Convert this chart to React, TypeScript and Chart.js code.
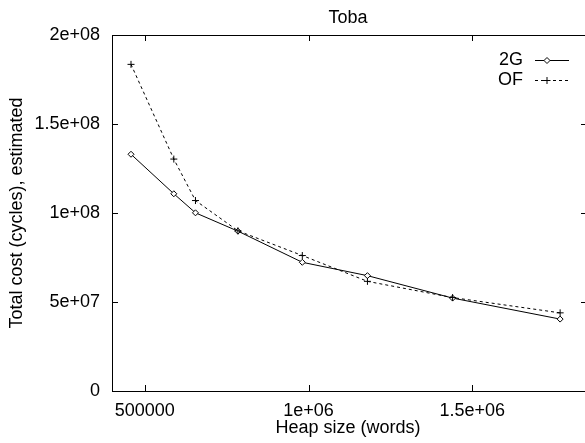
import React, { useEffect, useRef } from "react";
import { Chart, registerables } from "chart.js";

Chart.register(...registerables);

const heapSizes = [458000, 588700, 654800, 784400, 981000, 1179800, 1439700, 1768000];
const cost2G = [133000000, 110800000, 100100000, 89800000, 72300000, 64800000, 52200000, 40400000];
const costOF = [183500000, 130300000, 107000000, 90000000, 76100000, 61600000, 52500000, 43900000];

const xTickValues = [500000, 1000000, 1500000];
const xTickLabels = ["500000", "1e+06", "1.5e+06"];
const yTickValues = [0, 50000000, 100000000, 150000000, 200000000];
const yTickLabels = ["0", "5e+07", "1e+08", "1.5e+08", "2e+08"];

const FONT = "Liberation Sans, Arial, Helvetica, sans-serif";
const FS = 18;

const decorPlugin = {
  id: "decor",
  afterDraw(chart: any) {
    const { ctx, chartArea } = chart;
    const { left, right, top, bottom } = chartArea;
    const xs = chart.scales.x;
    const ys = chart.scales.y;
    ctx.save();
    ctx.strokeStyle = "#000";
    ctx.lineWidth = 1;
    ctx.setLineDash([]);
    // border
    ctx.strokeRect(Math.round(left) + 0.5, Math.round(top) + 0.5, Math.round(right - left), Math.round(bottom - top));
    const tl = 6;
    ctx.beginPath();
    xTickValues.forEach((v) => {
      const px = Math.round(xs.getPixelForValue(v)) + 0.5;
      ctx.moveTo(px, bottom);
      ctx.lineTo(px, bottom - tl);
      ctx.moveTo(px, top);
      ctx.lineTo(px, top + tl);
    });
    yTickValues.forEach((v) => {
      const py = Math.round(ys.getPixelForValue(v)) + 0.5;
      ctx.moveTo(left, py);
      ctx.lineTo(left + tl, py);
      ctx.moveTo(right, py);
      ctx.lineTo(right - tl, py);
    });
    ctx.stroke();

    ctx.fillStyle = "#000";
    ctx.font = `${FS}px ${FONT}`;
    ctx.textAlign = "center";
    ctx.textBaseline = "middle";
    ctx.fillText("Toba", 348, 18);
    ctx.fillText("Heap size (words)", 348, 428);
    ctx.save();
    ctx.translate(17, 213);
    ctx.rotate(-Math.PI / 2);
    ctx.fillText("Total cost (cycles), estimated", 0, 0);
    ctx.restore();

    // legend
    const entries = [
      { label: "2G", y: 60, dash: [] as number[], style: "diamond" },
      { label: "OF", y: 80, dash: [3, 3], style: "cross" },
    ];
    entries.forEach((e) => {
      ctx.textAlign = "right";
      ctx.textBaseline = "middle";
      ctx.fillText(e.label, 523, e.y);
      ctx.beginPath();
      ctx.setLineDash(e.dash);
      ctx.moveTo(535, e.y + 0.5);
      ctx.lineTo(569, e.y + 0.5);
      ctx.stroke();
      ctx.setLineDash([]);
      const mx = 547;
      const my = e.y + 0.5;
      ctx.beginPath();
      if (e.style === "diamond") {
        const r = 3;
        ctx.moveTo(mx, my - r);
        ctx.lineTo(mx + r, my);
        ctx.lineTo(mx, my + r);
        ctx.lineTo(mx - r, my);
        ctx.closePath();
        ctx.fillStyle = "#fff";
        ctx.fill();
        ctx.stroke();
        ctx.fillStyle = "#000";
      } else {
        const r = 3.5;
        ctx.moveTo(mx - r, my);
        ctx.lineTo(mx + r, my);
        ctx.moveTo(mx, my - r);
        ctx.lineTo(mx, my + r);
        ctx.stroke();
      }
    });
    ctx.restore();
  },
};

export default function App() {
  const ref = useRef<HTMLCanvasElement | null>(null);
  useEffect(() => {
    document.body.style.margin = "0";
    const canvas = ref.current!;
    const chart = new Chart(canvas, {
      type: "line",
      data: {
        datasets: [
          {
            label: "OF",
            data: heapSizes.map((x, i) => ({ x, y: costOF[i] })),
            borderColor: "#000",
            borderWidth: 1,
            borderDash: [3, 3],
            pointStyle: "cross",
            pointRadius: 3.5,
            pointBorderColor: "#000",
            pointBorderWidth: 1,
            fill: false,
            tension: 0,
          },
          {
            label: "2G",
            data: heapSizes.map((x, i) => ({ x, y: cost2G[i] })),
            borderColor: "#000",
            borderWidth: 1,
            pointStyle: "rectRot",
            pointRadius: 3,
            pointBackgroundColor: "#fff",
            pointBorderColor: "#000",
            pointBorderWidth: 1,
            fill: false,
            tension: 0,
          },
        ],
      },
      options: {
        responsive: false,
        animation: false,
        layout: { padding: { top: 35, right: 5, left: 0, bottom: 0 } },
        plugins: {
          legend: { display: false },
          title: { display: false },
          tooltip: { enabled: false },
        },
        scales: {
          x: {
            type: "linear",
            min: 400000,
            max: 1850000,
            grid: { display: false, drawTicks: false },
            border: { display: false },
            afterBuildTicks: (s: any) => {
              s.ticks = xTickValues.map((v) => ({ value: v }));
            },
            afterFit: (s: any) => {
              s.height = 52;
            },
            ticks: {
              padding: 9,
              color: "#000",
              maxRotation: 0,
              autoSkip: false,
              font: { family: FONT, size: FS },
              callback: (v: any) => {
                const i = xTickValues.indexOf(Number(v));
                return i >= 0 ? xTickLabels[i] : "";
              },
            },
          },
          y: {
            type: "linear",
            min: 0,
            max: 200000000,
            grid: { display: false, drawTicks: false },
            border: { display: false },
            afterBuildTicks: (s: any) => {
              s.ticks = yTickValues.map((v) => ({ value: v }));
            },
            afterFit: (s: any) => {
              s.width = 112;
            },
            ticks: {
              padding: 12,
              color: "#000",
              autoSkip: false,
              font: { family: FONT, size: FS },
              callback: (v: any) => {
                const i = yTickValues.indexOf(Number(v));
                return i >= 0 ? yTickLabels[i] : "";
              },
            },
          },
        },
      },
      plugins: [decorPlugin],
    });
    return () => chart.destroy();
  }, []);
  return (
    <div style={{ position: "fixed", left: 0, top: 0, width: 585, height: 443, overflow: "hidden", background: "#fff" }}>
      <canvas ref={ref} width={592} height={443} style={{ display: "block", width: 592, height: 443 }} />
    </div>
  );
}
